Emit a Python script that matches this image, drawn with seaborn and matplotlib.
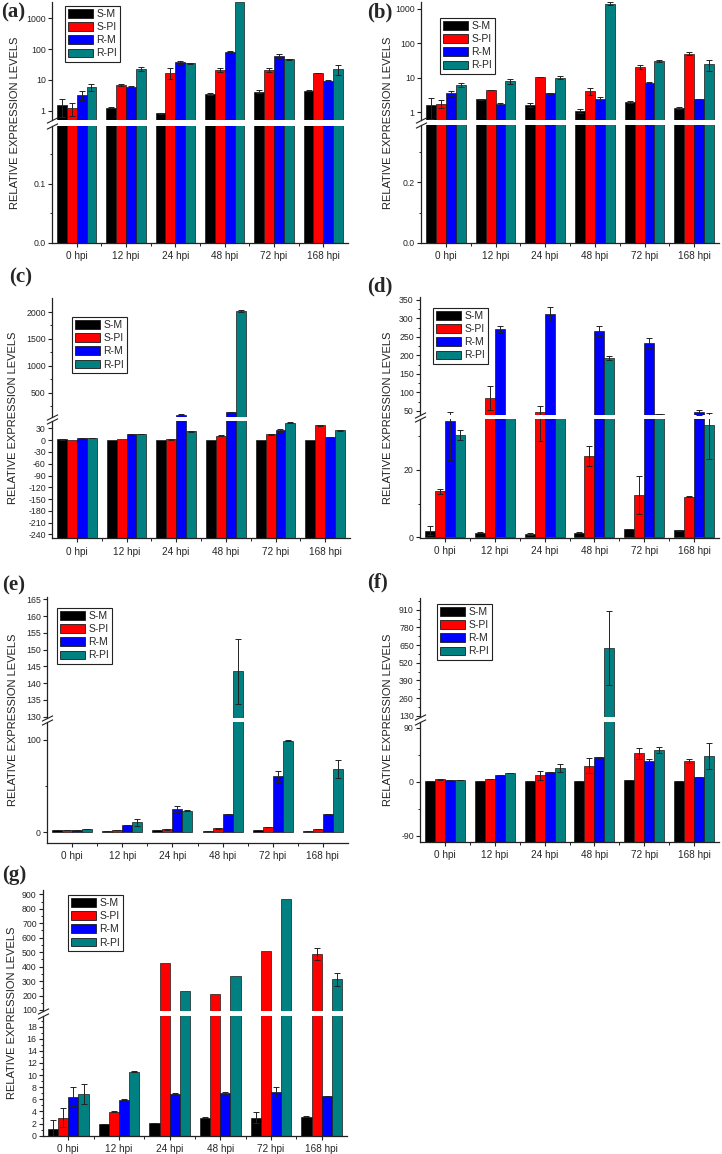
import numpy as np
import pandas as pd
import matplotlib
matplotlib.use('Agg')
import matplotlib.pyplot as plt
import seaborn as sns
from matplotlib.patches import Patch
from matplotlib.container import BarContainer
from matplotlib.ticker import NullLocator

# ============= Data =============
times = ['0 hpi', '12 hpi', '24 hpi', '48 hpi', '72 hpi', '168 hpi']
groups = ['S-M', 'S-PI', 'R-M', 'R-PI']
colors = ['#000000', '#ff0000', '#0000ff', '#008080']

# rows: S-M, S-PI, R-M, R-PI ; columns: times
a_mean = [[1.56, 1.28, 0.84, 3.5, 4.2, 4.5],
          [1.22, 6.9, 17.2, 21, 21, 17],
          [3.3, 6.1, 37, 82, 60, 9.5],
          [5.8, 23, 34.5, 3200, 46, 22]]
a_err = [[0.9, 0.05, 0.05, 0.2, 0.4, 0.2],
         [0.55, 0.3, 6.5, 2.7, 3, 0.3],
         [1.1, 0.2, 4, 1.5, 8, 0.3],
         [1.4, 4, 1, 0, 3, 8]]

b_mean = [[1.63, 2.32, 1.63, 1.09, 1.95, 1.33],
          [1.74, 4.43, 10.5, 3.96, 20.5, 48.7],
          [3.47, 1.74, 3.47, 2.38, 7.2, 2.38],
          [6.3, 7.9, 10, 1400, 30.5, 24]]
b_err = [[1.0, 0.1, 0.2, 0.15, 0.15, 0.1],
         [0.45, 0.05, 0.2, 0.9, 3, 5],
         [0.5, 0.1, 0.1, 0.3, 0.2, 0.05],
         [0.9, 1.3, 0.8, 120, 1.5, 8]]

c_mean = [[2.6, 1, 1, 0.5, 0.5, 0.5],
          [1, 2.6, 2, 11, 14.6, 37.7],
          [6, 15.4, 90, 130, 25.7, 8.6],
          [6, 15.4, 23, 2020, 44.6, 25.7]]
c_err = [[1, 0, 0, 0, 0, 0],
         [0, 0, 0.5, 1, 1, 0.5],
         [0.5, 0.3, 5, 5, 4, 0.3],
         [0.5, 0.3, 1, 10, 1, 1]]

d_mean = [[2.0, 1.4, 1.0, 1.4, 2.5, 2.1],
          [13.6, 85, 45.5, 24.2, 12.6, 12.1],
          [34.5, 271, 312, 266, 233, 45.5],
          [30.3, 37, 37, 193.5, 42, 33.3]]
d_err = [[1.4, 0.1, 0.2, 0.1, 0.1, 0.1],
         [0.8, 33, 17, 3, 5.6, 0.2],
         [11.5, 8, 20, 13, 14, 6],
         [1.4, 0, 0, 5, 0.3, 10]]

e_mean = [[2.2, 1.4, 1.8, 1.4, 2.2, 0.7],
          [2.2, 2.5, 2.9, 4.3, 5.4, 3.2],
          [2.2, 7.6, 24.9, 19.1, 60.3, 19.5],
          [3.2, 10.5, 23.1, 143.5, 98.9, 68.2]]
e_err = [[0.2, 0.1, 0.1, 0.1, 0.1, 0.1],
         [0.2, 0.1, 0.5, 0.5, 0.2, 0.2],
         [0.1, 0.2, 3.2, 0.3, 5.8, 0.2],
         [0.2, 3.5, 0.3, 9.7, 0.5, 10]]

f_mean = [[1.7, 1.7, 1.7, 1.7, 3.3, 1.7],
          [3.9, 5, 10.6, 26.7, 47.2, 34.4],
          [2.2, 10.6, 15.6, 40.6, 34.4, 8.3],
          [2.2, 14.4, 22.2, 627, 52.8, 42.8]]
f_err = [[0.2, 0.1, 0.1, 0.1, 0.2, 0.1],
         [0.3, 0.2, 8, 12, 9.5, 3.4],
         [0.1, 0.2, 1, 1, 3.4, 0.2],
         [0.1, 0.2, 6.7, 271, 4.4, 21]]

g_mean = [[1.05, 1.9, 2.1, 3.0, 2.97, 3.14],
          [3.0, 3.96, 422, 213.6, 508, 485],
          [6.44, 5.94, 6.93, 7.04, 7.2, 6.5],
          [6.8, 10.57, 234, 336, 870, 311]]
g_err = [[1.5, 0.05, 0.05, 0.1, 0.9, 0.05],
         [1.6, 0.05, 0, 0, 0, 42],
         [1.55, 0.05, 0.05, 0.1, 0.8, 0.05],
         [1.65, 0.05, 0, 0, 0, 44]]

# ============= Layout (pixels of the 722x1154 canvas) =============
panels = [
    dict(tag='(a)', mean=a_mean, err=a_err, left=52, right=348, base=0,
         top_box=(2, 120), bot_box=(126, 243), log=True,
         top_lim=(0.51, 3300), top_ticks=[1, 10, 100, 1000], top_minor=[], top_fmt='{:g}',
         bot_lim=(0, 0.198), bot_ticks=[0, 0.1], bot_minor=[0.05, 0.15], bot_fmt='{:.1f}',
         leg=(65, 6), ylab_x=15, tag_xy=(1, 12)),
    dict(tag='(b)', mean=b_mean, err=b_err, left=421, right=719, base=0,
         top_box=(2, 120), bot_box=(125, 243), log=True,
         top_lim=(0.59, 1550), top_ticks=[1, 10, 100, 1000], top_minor=[], top_fmt='{:g}',
         bot_lim=(0, 0.39), bot_ticks=[0, 0.2], bot_minor=[0.1, 0.3], bot_fmt='{:.1f}',
         leg=(440, 18), ylab_x=388, tag_xy=(367, 12)),
    dict(tag='(c)', mean=c_mean, err=c_err, left=52, right=350, base=-250,
         top_box=(298, 416.7), bot_box=(420.7, 538.3), log=False,
         top_lim=(50, 2262), top_ticks=[500, 1000, 1500, 2000],
         top_minor=[250, 750, 1250, 1750], top_fmt='{:g}',
         bot_lim=(-250, 49.7), bot_ticks=list(range(-240, 31, 30)), bot_minor=[], bot_fmt='{:g}',
         leg=(72, 317), ylab_x=13, tag_xy=(9, 277)),
    dict(tag='(d)', mean=d_mean, err=d_err, left=420, right=719, base=0,
         top_box=(297, 414.7), bot_box=(419.3, 538), log=False,
         top_lim=(39.3, 358), top_ticks=list(range(50, 351, 50)),
         top_minor=list(range(75, 351, 50)), top_fmt='{:g}',
         bot_lim=(-0.2, 35), bot_ticks=[0, 20], bot_minor=[10, 30], bot_fmt='{:g}',
         leg=(433, 308), ylab_x=388, tag_xy=(367, 286)),
    dict(tag='(e)', mean=e_mean, err=e_err, left=47, right=348, base=0,
         top_box=(597, 717.7), bot_box=(722.3, 843), log=False,
         top_lim=(129.7, 165.7), top_ticks=list(range(130, 166, 5)), top_minor=[], top_fmt='{:g}',
         bot_lim=(-11.9, 119), bot_ticks=[0, 100], bot_minor=[50], bot_fmt='{:g}',
         leg=(57, 608), ylab_x=13, tag_xy=(2, 585)),
    dict(tag='(f)', mean=f_mean, err=f_err, left=420, right=719, base=-100,
         top_box=(598, 717.3), bot_box=(722.3, 841.7), log=False,
         top_lim=(118, 996), top_ticks=list(range(130, 911, 130)),
         top_minor=list(range(195, 976, 130)), top_fmt='{:g}',
         bot_lim=(-100, 99), bot_ticks=[-90, 0, 90], bot_minor=[-45, 45], bot_fmt='{:g}',
         leg=(437, 604), ylab_x=388, tag_xy=(367, 582)),
    dict(tag='(g)', mean=g_mean, err=g_err, left=43, right=347, base=0,
         top_box=(890, 1011), bot_box=(1015.7, 1135.7), log=False,
         top_lim=(93, 930), top_ticks=list(range(100, 901, 100)),
         top_minor=list(range(150, 900, 100)), top_fmt='{:g}',
         bot_lim=(0, 19.8), bot_ticks=list(range(0, 19, 2)),
         bot_minor=list(range(1, 20, 2)), bot_fmt='{:g}',
         leg=(68, 895), ylab_x=12, tag_xy=(2, 875)),
]

sns.set_theme(style='ticks')
plt.rcParams['font.family'] = ['Liberation Sans', 'DejaVu Sans']
plt.rcParams['axes.linewidth'] = 0.9

W, H = 722, 1154
fig = plt.figure(figsize=(W / 100, H / 100), dpi=100)
fig.patch.set_facecolor('white')


def px_axes(left, right, top, bottom):
    return fig.add_axes([left / W, 1 - bottom / H, (right - left) / W, (bottom - top) / H])


def to_frame(mean):
    rows = []
    for gi, g in enumerate(groups):
        for ti, t in enumerate(times):
            rows.append({'time': t, 'group': g, 'value': mean[gi][ti]})
    return pd.DataFrame(rows)


def draw_bars(ax, df, err, lim, base=0):
    sns.barplot(data=df, x='time', y='value', hue='group', order=times, hue_order=groups,
                palette=colors, saturation=1, errorbar=None, width=0.8,
                edgecolor='k', linewidth=0.5, legend=False, ax=ax)
    lo, hi = lim
    bar_sets = [c for c in ax.containers if isinstance(c, BarContainer)]
    for gi, cont in enumerate(bar_sets):
        for bar in cont:
            top = bar.get_height()
            if base != 0:
                # Origin-style bars rise from the bottom of the axis
                bar.set_y(base)
                bar.set_height(top - base)
            xc = bar.get_x() + bar.get_width() / 2
            e = err[gi][int(round(xc))]
            # skip bars whose error bar lies wholly outside this axis segment
            if e <= 0 or top + e < lo or top - e > hi:
                continue
            ax.errorbar(xc, top, yerr=e, fmt='none', ecolor='#222222',
                        elinewidth=0.7, capsize=2.2, capthick=0.7, zorder=5)


def style_axis(ax, lim, ticks, minor, fmt, is_log=False):
    if is_log:
        ax.set_yscale('log')
    ax.set_ylim(*lim)
    ax.set_yticks(ticks)
    ax.set_yticklabels([fmt.format(t) for t in ticks])
    if minor:
        ax.set_yticks(minor, minor=True)
    else:
        ax.yaxis.set_minor_locator(NullLocator())
    ax.set_xlim(-0.5, 5.5)
    ax.set_xlabel('')
    ax.set_ylabel('')
    ax.set_facecolor('white')
    for s in ['top', 'right']:
        ax.spines[s].set_visible(False)
    for s in ['left', 'bottom']:
        ax.spines[s].set_color('#222222')
    ax.tick_params(axis='y', which='major', direction='out', length=3, width=0.8,
                   labelsize=6.3, pad=1.5, color='#222222')
    ax.tick_params(axis='y', which='minor', direction='out', length=1.6, width=0.7,
                   color='#222222')


for p in panels:
    df = to_frame(p['mean'])
    ax_top = px_axes(p['left'], p['right'], *p['top_box'])
    ax_bot = px_axes(p['left'], p['right'], *p['bot_box'])

    draw_bars(ax_top, df, p['err'], p['top_lim'], p['base'])
    draw_bars(ax_bot, df, p['err'], p['bot_lim'], p['base'])

    style_axis(ax_top, p['top_lim'], p['top_ticks'], p['top_minor'], p['top_fmt'], p['log'])
    style_axis(ax_bot, p['bot_lim'], p['bot_ticks'], p['bot_minor'], p['bot_fmt'])

    ax_top.spines['bottom'].set_visible(False)
    ax_top.tick_params(axis='x', which='both', bottom=False, labelbottom=False)

    ax_bot.set_xticks(range(len(times)))
    ax_bot.set_xticklabels(times)
    ax_bot.set_xticks(np.arange(0.5, 5.0, 1.0), minor=True)
    ax_bot.tick_params(axis='x', which='major', direction='out', length=3, width=0.8,
                       labelsize=7.2, pad=3, color='#222222')
    ax_bot.tick_params(axis='x', which='minor', direction='out', length=2, width=0.7,
                       color='#222222')

    # break marks on the left spine
    mk = dict(marker=[(-1, -0.5), (1, 0.5)], markersize=8, linestyle='none',
              color='#222222', mec='#222222', mew=0.8, clip_on=False)
    ax_top.plot([0], [0], transform=ax_top.transAxes, **mk)
    ax_bot.plot([0], [1], transform=ax_bot.transAxes, **mk)

    handles = [Patch(facecolor=c, edgecolor='k', linewidth=0.6) for c in colors]
    lx, ly = p['leg']
    leg = ax_top.legend(handles, groups, loc='upper left',
                        bbox_to_anchor=(lx / W, 1 - ly / H), bbox_transform=fig.transFigure,
                        borderaxespad=0, fontsize=7.5, frameon=True, fancybox=False,
                        handlelength=2.4, handleheight=0.9, labelspacing=0.3,
                        borderpad=0.3, handletextpad=0.3)
    leg.get_frame().set_edgecolor('#222222')
    leg.get_frame().set_linewidth(0.8)
    leg.get_frame().set_alpha(1)

    yc = (p['top_box'][0] + p['bot_box'][1]) / 2
    fig.text(p['ylab_x'] / W, 1 - yc / H, 'RELATIVE EXPRESSION LEVELS', rotation=90,
             ha='center', va='center', fontsize=8, color='#222222')
    tx, ty = p['tag_xy']
    fig.text(tx / W, 1 - ty / H, p['tag'], ha='left', va='center', fontsize=15,
             fontweight='bold', family=['Liberation Serif', 'DejaVu Serif'])

fig.savefig('out.png', dpi=100, facecolor='white')
